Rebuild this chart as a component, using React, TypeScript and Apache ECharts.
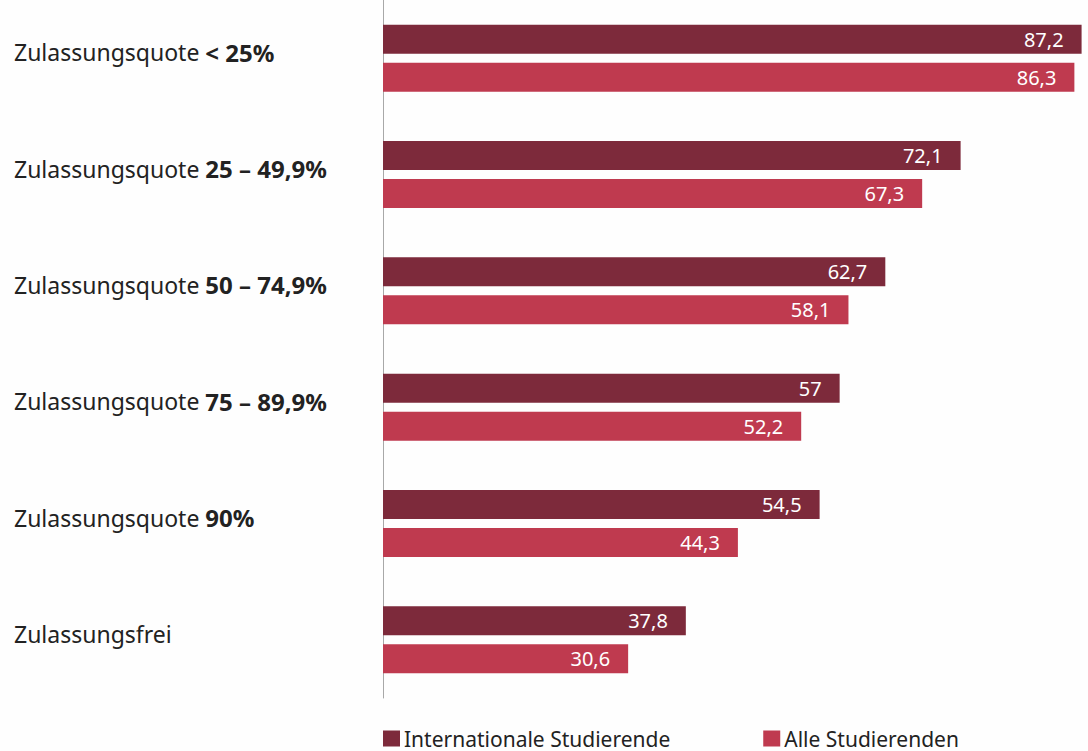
import React, { useEffect, useRef } from "react";
import * as echarts from "echarts";

const categories = [
  "Zulassungsquote < 25%",
  "Zulassungsquote 25 – 49,9%",
  "Zulassungsquote 50 – 74,9%",
  "Zulassungsquote 75 – 89,9%",
  "Zulassungsquote 90%",
  "Zulassungsfrei",
];
const international = [87.2, 72.1, 62.7, 57, 54.5, 37.8];
const alle = [86.3, 67.3, 58.1, 52.2, 44.3, 30.6];
const seriesNames = ["Internationale Studierende", "Alle Studierenden"];

const FONT = "'Noto Sans', 'Open Sans', sans-serif";

export default function App() {
  const ref = useRef<HTMLDivElement>(null);
  useEffect(() => {
    if (!ref.current) return;
    const chart = echarts.init(ref.current, null, { renderer: "svg" });
    const fmtVal = (p: any) => String(p.value).replace(".", ",");
    const barLabel = {
      show: true,
      position: "insideRight" as const,
      distance: 18,
      color: "#ffffff",
      fontSize: 20,
      fontFamily: FONT,
      formatter: fmtVal,
    };
    chart.setOption({
      animation: false,
      backgroundColor: "#fefefe",
      textStyle: { fontFamily: FONT },
      grid: { left: 383, top: -2, right: 0, height: 700 },
      legend: {
        show: true,
        left: 378,
        top: 723,
        itemWidth: 17,
        itemHeight: 16,
        itemGap: 93,
        icon: "rect",
        textStyle: {
          fontSize: 21,
          lineHeight: 17,
          color: "#222",
          fontFamily: FONT,
          padding: [0, 0, 0, -1],
        },
        data: seriesNames,
      },
      xAxis: {
        type: "value",
        min: 0,
        max: 88,
        show: false,
      },
      yAxis: {
        type: "category",
        inverse: true,
        data: categories,
        axisLine: { show: true, lineStyle: { color: "#a8a8a8", width: 1 } },
        axisTick: { show: false },
        axisLabel: {
          align: "left",
          margin: 369,
          verticalAlign: "middle",
          formatter: (v: string) => {
            const pre = "Zulassungsquote ";
            if (v.startsWith(pre)) {
              return `{n|${pre}}{b|${v.slice(pre.length)}}`;
            }
            return `{n|${v}}`;
          },
          rich: {
            n: { fontSize: 23, color: "#222", fontFamily: FONT, padding: [0, 0, 12, 0] },
            b: {
              fontSize: 24,
              color: "#222",
              fontWeight: "bold",
              fontFamily: FONT,
              padding: [0, 0, 12, 0],
            },
          },
        },
      },
      series: [
        {
          name: seriesNames[0],
          type: "bar",
          data: international,
          barWidth: 29,
          barGap: "31%",
          itemStyle: { color: "#7d2a3b" },
          label: barLabel,
        },
        {
          name: seriesNames[1],
          type: "bar",
          data: alle,
          barWidth: 29,
          itemStyle: { color: "#bf3a4f" },
          label: barLabel,
        },
      ],
    });
    return () => chart.dispose();
  }, []);
  return (
    <div
      ref={ref}
      style={{ position: "fixed", left: 0, top: 0, width: 1088, height: 751 }}
    />
  );
}
